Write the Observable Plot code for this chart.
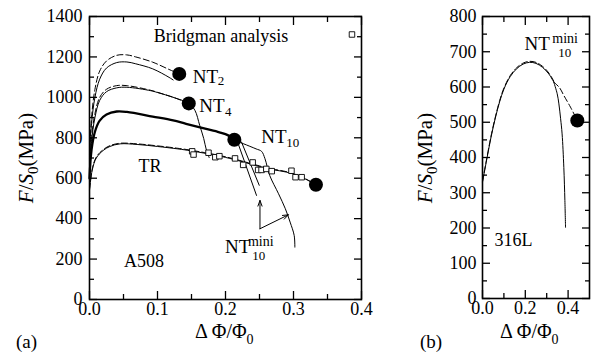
<!DOCTYPE html>
<html><head><meta charset="utf-8">
<script src="https://cdn.jsdelivr.net/npm/d3@7"></script>
<script src="https://cdn.jsdelivr.net/npm/@observablehq/plot@0.6"></script>
<style>
body{margin:0;background:#fff;}
#wrap{position:relative;width:597px;height:354px;overflow:hidden;background:#fff;font-family:'Liberation Serif','Times New Roman',serif;}
#wrap svg{position:absolute;top:0;font-family:'Liberation Serif','Times New Roman',serif;}
#wrap svg text{font-family:'Liberation Serif','Times New Roman',serif;}
</style></head><body><div id="wrap"></div>
<script>
// ---------- Panel (a): A508 ----------
const nt2Dashed = [[0,720],[0.003,900],[0.008,1040],[0.015,1130],[0.025,1180],[0.04,1208],[0.055,1210],[0.068,1200],[0.093,1174],[0.117,1138],[0.132,1116]];
const nt2Solid  = [[0,700],[0.003,870],[0.008,1000],[0.015,1090],[0.025,1145],[0.04,1172],[0.055,1175],[0.068,1166],[0.093,1141],[0.117,1099],[0.123,1086]];
const nt4Dashed = [[0,650],[0.003,800],[0.008,920],[0.015,1000],[0.025,1040],[0.04,1058],[0.055,1058],[0.09,1035],[0.1,1025],[0.125,998],[0.146,970]];
const nt4Solid  = [[0,620],[0.003,780],[0.008,900],[0.015,985],[0.025,1028],[0.04,1047],[0.055,1050],[0.09,1033],[0.1,1024],[0.125,998],[0.146,970],[0.155,936],[0.162,862],[0.168,796],[0.172,738],[0.176,702]];
const nt10Bold  = [[0,600],[0.003,740],[0.008,830],[0.015,885],[0.025,915],[0.04,930],[0.055,928],[0.093,905],[0.123,886],[0.142,869],[0.17,845],[0.191,827],[0.204,812],[0.213,790]];
const nt10Tail  = [[0.213,787],[0.226,771],[0.245,745],[0.253,733],[0.258,697],[0.265,614],[0.278,523],[0.288,449],[0.295,383],[0.301,317],[0.302,259]];
const miniA     = [[0.2186,771],[0.2456,515]];
const miniB     = [[0.2235,779],[0.2496,565]];
const trSolid   = [[0,540],[0.004,640],[0.01,700],[0.02,737],[0.03,757],[0.045,770],[0.07,767],[0.1,757],[0.13,745],[0.15,735],[0.2,703],[0.25,658],[0.27,642],[0.29,630],[0.31,608],[0.333,568]];
const trDashed  = [[0,545],[0.004,645],[0.01,705],[0.02,741],[0.03,761],[0.045,773],[0.07,770],[0.1,760],[0.13,748],[0.15,738],[0.2,706],[0.25,661],[0.27,645],[0.29,632],[0.31,610],[0.333,568]];
const bridgman  = [[0.151,733],[0.153,717],[0.175,726],[0.185,704],[0.191,709],[0.214,698],[0.226,666],[0.240,678],[0.248,641],[0.253,641],[0.260,646],[0.268,635],[0.297,637],[0.303,605],[0.312,605]];
const bridgmanKey = [[0.386,1311]];
const endPointsA = [[0.132,1116],[0.146,970],[0.213,790],[0.333,568]];
const miniArrows = [[0.2507,350,0.2507,490],[0.2507,350,0.2925,419]];
const xMajorA = [0,0.1,0.2,0.3,0.4], xMinorA = [0.05,0.15,0.25,0.35];
const yMajorA = [0,200,400,600,800,1000,1200,1400], yMinorA = [100,300,500,700,900,1100,1300];

// ---------- Panel (b): 316L ----------
const bRise = [[0,330],[0.02,395],[0.04,458],[0.06,512],[0.08,558],[0.1,594],[0.13,630],[0.16,652],[0.19,665],[0.22,670],[0.25,667],[0.28,656],[0.31,637],[0.333,614]];
const bSolidTail = [[0.333,614],[0.349,581],[0.357,552],[0.365,510],[0.372,467],[0.38,372],[0.385,278],[0.388,202]];
const bDashedTail = [[0.333,614],[0.36,598],[0.38,576],[0.411,543],[0.443,505]];
const endPointsB = [[0.443,505]];
const xMajorB = [0,0.2,0.4], xMinorB = [0.1,0.3];
const yMajorB = [0,100,200,300,400,500,600,700,800], yMinorB = [50,150,250,350,450,550,650,750];

const FONT = "'Liberation Serif', 'Times New Roman', serif";
const X = d => d[0], Y = d => d[1];

function frameAxes(xMaj, xMin, yMaj, yMin, xFmt, yPad) {
  const m = [];
  for (const a of ["bottom","top"]) {
    m.push(Plot.axisX(xMaj, {anchor: a, tickSize: -8, tickFormat: () => "", label: null, strokeWidth: 1.3}));
    m.push(Plot.axisX(xMin, {anchor: a, tickSize: -5, tickFormat: () => "", label: null, strokeWidth: 1.3}));
  }
  for (const a of ["left","right"]) {
    m.push(Plot.axisY(yMaj, {anchor: a, tickSize: -8, tickFormat: () => "", label: null, strokeWidth: 1.3}));
    m.push(Plot.axisY(yMin, {anchor: a, tickSize: -5, tickFormat: () => "", label: null, strokeWidth: 1.3}));
  }
  m.push(Plot.axisX(xMaj, {anchor: "bottom", tickSize: 0, tickPadding: 3, tickFormat: xFmt, label: null, fontSize: 18, fill: "black"}));
  m.push(Plot.axisY(yMaj, {anchor: "left", tickSize: 0, tickPadding: yPad, tickFormat: d => String(d), label: null, fontSize: 18, fill: "black"}));
  m.push(Plot.frame({stroke: "black", strokeWidth: 1.6}));
  return m;
}

function txt(x, y, s, size) {
  return Plot.text([[x, y]], {x: X, y: Y, text: () => s, textAnchor: "start", lineAnchor: "bottom", fontSize: size, fill: "black"});
}

const fmt1 = d3.format(".1f");

const plotA = Plot.plot({
  width: 380, height: 354,
  marginLeft: 89, marginRight: 19, marginTop: 16, marginBottom: 55,
  x: {domain: [0, 0.4]}, y: {domain: [0, 1400]},
  style: {fontFamily: FONT, background: "transparent", overflow: "visible", color: "black"},
  marks: [
    Plot.line(trSolid, {x: X, y: Y, curve: "catmull-rom", stroke: "black", strokeWidth: 1}),
    Plot.line(trDashed, {x: X, y: Y, curve: "catmull-rom", stroke: "black", strokeWidth: 1, strokeDasharray: "6,3"}),
    Plot.line(nt2Solid, {x: X, y: Y, curve: "catmull-rom", stroke: "black", strokeWidth: 1}),
    Plot.line(nt2Dashed, {x: X, y: Y, curve: "catmull-rom", stroke: "black", strokeWidth: 1, strokeDasharray: "6,3"}),
    Plot.line(nt4Solid, {x: X, y: Y, curve: "catmull-rom", stroke: "black", strokeWidth: 1}),
    Plot.line(nt4Dashed, {x: X, y: Y, curve: "catmull-rom", stroke: "black", strokeWidth: 1, strokeDasharray: "6,3"}),
    Plot.line(nt10Bold, {x: X, y: Y, curve: "catmull-rom", stroke: "black", strokeWidth: 2.3}),
    Plot.line(nt10Tail, {x: X, y: Y, curve: "catmull-rom", stroke: "black", strokeWidth: 1}),
    Plot.line(miniA, {x: X, y: Y, stroke: "black", strokeWidth: 1}),
    Plot.line(miniB, {x: X, y: Y, stroke: "black", strokeWidth: 1}),
    Plot.arrow(miniArrows, {x1: d => d[0], y1: d => d[1], x2: d => d[2], y2: d => d[3], stroke: "black", strokeWidth: 1, headLength: 9, headAngle: 40}),
    Plot.dot(bridgman, {x: X, y: Y, symbol: "square", r: 3.1, stroke: "black", strokeWidth: 0.9, fill: "white"}),
    Plot.dot(bridgmanKey, {x: X, y: Y, symbol: "square", r: 3.1, stroke: "black", strokeWidth: 0.9, fill: "white"}),
    Plot.dot(endPointsA, {x: X, y: Y, r: 7, fill: "black", stroke: "none"}),
    txt(0.0945, 1276, "Bridgman analysis", 18),
    txt(0.1517, 1070, "NT", 19), txt(0.1886, 1062, "2", 13),
    txt(0.1613, 926, "NT", 19), txt(0.1994, 910, "4", 13),
    txt(0.2526, 773, "NT", 19), txt(0.2895, 753, "10", 13),
    txt(0.0719, 632, "TR", 18),
    txt(0.0507, 162, "A508", 18),
    txt(0.1994, 231, "NT", 19), txt(0.233, 266, "mini", 14), txt(0.2393, 197, "10", 13),
    ...frameAxes(xMajorA, xMinorA, yMajorA, yMinorA, fmt1, 7)
  ]
});

const plotB = Plot.plot({
  width: 217, height: 354,
  marginLeft: 102, marginRight: 8, marginTop: 16, marginBottom: 56,
  x: {domain: [0, 0.5]}, y: {domain: [0, 800]},
  style: {fontFamily: FONT, background: "transparent", overflow: "visible", color: "black"},
  marks: [
    Plot.line(bRise, {x: X, y: Y, curve: "catmull-rom", stroke: "black", strokeWidth: 1}),
    Plot.line(bRise, {x: X, y: Y, curve: "catmull-rom", stroke: "black", strokeWidth: 1, strokeDasharray: "6,3", dy: -1}),
    Plot.line(bSolidTail, {x: X, y: Y, curve: "catmull-rom", stroke: "black", strokeWidth: 1}),
    Plot.line(bDashedTail, {x: X, y: Y, curve: "catmull-rom", stroke: "black", strokeWidth: 1, strokeDasharray: "6,3"}),
    Plot.dot(endPointsB, {x: X, y: Y, r: 7, fill: "black", stroke: "none"}),
    txt(0.196, 704, "NT", 19), txt(0.326, 726, "mini", 14), txt(0.354, 684, "10", 13),
    txt(0.056, 150, "316L", 18),
    ...frameAxes(xMajorB, xMinorB, yMajorB, yMinorB, fmt1, 6)
  ]
});

const wrap = document.getElementById("wrap");
plotA.style.left = "0px";
plotB.style.left = "380px";
wrap.appendChild(plotA);
wrap.appendChild(plotB);

// axis titles and panel letters
function titles(svg, xTitleX, yTitleX, letterX, letter) {
  const s = d3.select(svg);
  const xt = s.append("text").attr("x", xTitleX).attr("y", 338).attr("text-anchor", "start")
    .style("font-family", FONT).attr("font-size", 20).attr("fill", "black");
  xt.append("tspan").text("\u0394 \u03A6/\u03A6");
  xt.append("tspan").attr("font-size", 14).attr("dy", 6).text("0");
  const yt = s.append("text").attr("transform", `translate(${yTitleX},158) rotate(-90)`)
    .attr("text-anchor", "middle").style("font-family", FONT).attr("font-size", 21).attr("fill", "black");
  yt.append("tspan").attr("font-style", "italic").text("F");
  yt.append("tspan").text("/");
  yt.append("tspan").attr("font-style", "italic").text("S");
  yt.append("tspan").attr("font-size", 15).attr("dy", 5).text("0");
  yt.append("tspan").attr("dy", -5).text("(MPa)");
  s.append("text").attr("x", letterX).attr("y", 348).attr("text-anchor", "start").style("font-family", FONT)
    .attr("font-size", 19).attr("fill", "black").text(letter);
}
titles(plotA, 195, 33, 16, "(a)");
titles(plotB, 120, 52, 40, "(b)");
</script></body></html>
